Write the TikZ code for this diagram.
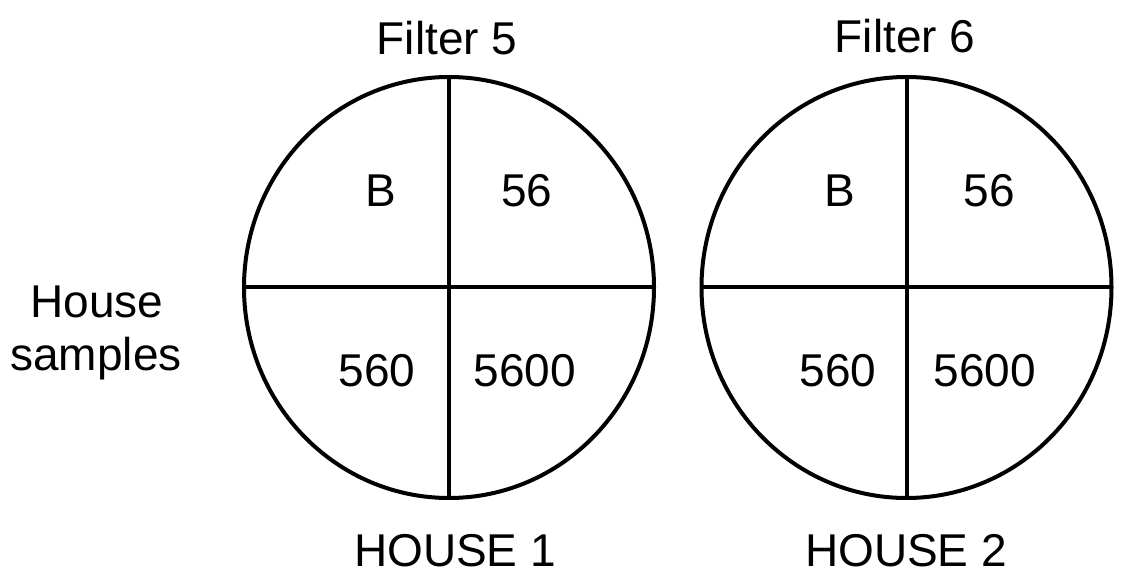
\documentclass[tikz,border=0pt]{standalone}
\usepackage{fontspec}
\setmainfont{Liberation Sans}
\usetikzlibrary{shapes.geometric}
\begin{document}
\begin{tikzpicture}[x=1pt,y=-1pt,
  disc/.style={draw, ellipse, line width=4pt, outer sep=0pt, inner sep=0pt, minimum width=410pt, minimum height=421pt},
  divider/.style={line width=4pt},
  lbl/.style={anchor=base, inner sep=0pt, font=\fontsize{46}{52}\selectfont}]
\useasboundingbox (0,0) rectangle (1127,577);
\node[disc] (c1) at (449,287.5) {};
\node[disc] (c2) at (906.5,287.5) {};
\draw[divider] (c1.north) -- (c1.south);
\draw[divider] (c1.west) -- (c1.east);
\draw[divider] (c2.north) -- (c2.south);
\draw[divider] (c2.west) -- (c2.east);
\node[lbl] (f5) at (447,55) {Filter 5};
\node[lbl] (f6) at (905,53) {Filter 6};
\node[lbl] (b1) at (381,207) {B};
\node[lbl] (a1) at (527,207) {56};
\node[lbl] (d1) at (377,386) {560};
\node[lbl] (e1) at (525,386) {5600};
\node[lbl] (b2) at (840,207) {B};
\node[lbl] (a2) at (989,207) {56};
\node[lbl] (d2) at (838,386) {560};
\node[lbl] (e2) at (985,386) {5600};
\node[lbl] (h1) at (455,566) {HOUSE 1};
\node[lbl] (h2) at (906,566) {HOUSE 2};
\node[lbl] (hs1) at (97,317) {House};
\node[lbl] (hs2) at (96,370) {samples};
\end{tikzpicture}
\end{document}
